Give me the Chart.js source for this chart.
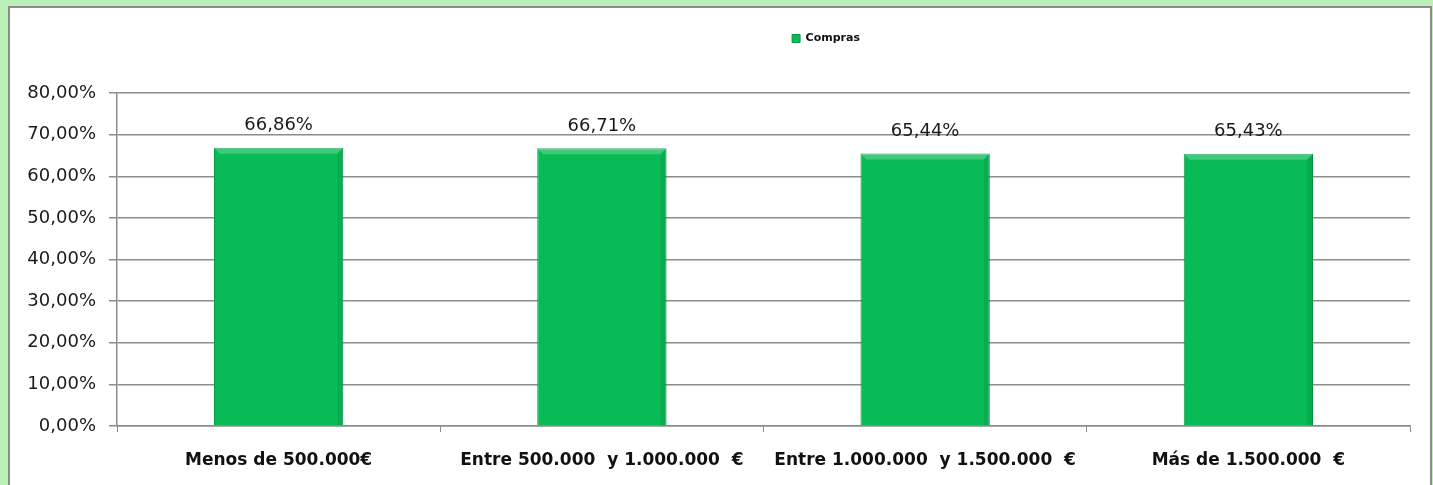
<!DOCTYPE html>
<html lang="es">

<head>
    <meta charset="UTF-8">
    <title> COMPRAS </title>
    <script src="https://cdn.jsdelivr.net/npm/chart.js"></script>

<style>
    body{
        margin: 0;
        background-color: #bcf0b9;
        width: 1433px;
        height: 485px;
        overflow: hidden;
    }
    #panel{
        position: absolute;
        left: 8px;
        top: 6px;
        width: 1420px;
        height: 490px;
        background-color: #ffffff;
        border: 2px solid #8c8c8c;
    }
</style>

</head>

<body>
    <div id="panel">
        <canvas id="myChart" width="1420" height="477"></canvas>
    </div>

    <script>
        var categories = ['Menos de 500.000€', 'Entre 500.000  y 1.000.000  €', 'Entre 1.000.000  y 1.500.000  €', 'Más de 1.500.000  €'];
        var compras = [66.86, 66.71, 65.44, 65.43];
        var seriesName = 'Compras';
        var yTicks = [0, 10, 20, 30, 40, 50, 60, 70, 80];

        function pct(v) {
            return v.toFixed(2).replace('.', ',') + '%';
        }

        // etiquetas encima de cada barra
        var valueLabels = {
            id: 'valueLabels',
            afterDatasetsDraw: function (chart) {
                var ctx = chart.ctx;
                var meta = chart.getDatasetMeta(0);
                ctx.save();
                ctx.font = '18px "DejaVu Sans"';
                ctx.fillStyle = '#1a1a1a';
                ctx.textAlign = 'center';
                ctx.textBaseline = 'bottom';
                meta.data.forEach(function (bar, i) {
                    ctx.fillText(pct(compras[i]), bar.x, bar.y - 13);
                });
                ctx.restore();
            }
        };

        // un poco de relieve en las barras
        var bevel = {
            id: 'bevel',
            afterDatasetsDraw: function (chart) {
                var ctx = chart.ctx;
                chart.getDatasetMeta(0).data.forEach(function (bar) {
                    var l = bar.x - bar.width / 2, r = bar.x + bar.width / 2;
                    var t = bar.y, b = bar.base, d = 6;
                    ctx.save();
                    ctx.fillStyle = 'rgba(255,255,255,0.22)';
                    ctx.beginPath();
                    ctx.moveTo(l, t); ctx.lineTo(r, t); ctx.lineTo(r - d, t + d); ctx.lineTo(l + d, t + d);
                    ctx.closePath(); ctx.fill();
                    ctx.fillStyle = 'rgba(0,0,0,0.07)';
                    ctx.beginPath();
                    ctx.moveTo(r, t); ctx.lineTo(r, b); ctx.lineTo(r - d, b); ctx.lineTo(r - d, t + d);
                    ctx.closePath(); ctx.fill();
                    ctx.restore();
                });
            }
        };

        // mover la leyenda un poco a la derecha
        var legendShift = {
            id: 'legendShift',
            afterLayout: function (chart) {
                if (chart.legend) {
                    chart.legend.left += 116;
                    chart.legend.right += 116;
                }
            }
        };

        var data = {
            labels: categories,
            datasets: [{
                label: seriesName,
                data: compras,
                backgroundColor: '#09bb57',
                borderColor: '#079a47',
                borderWidth: 1,
                categoryPercentage: 1,
                barPercentage: 0.4
            }]
        };

        var options = {
            responsive: false,
            animation: false,
            layout: {
                padding: { left: 0, right: 20, top: 0, bottom: 0 }
            },
            plugins: {
                legend: {
                    display: true,
                    labels: {
                        boxWidth: 8,
                        boxHeight: 8,
                        padding: 25,
                        color: '#111',
                        font: { family: 'DejaVu Sans', size: 11, weight: 'bold' }
                    }
                },
                title: {
                    display: true,
                    text: ' ',
                    weight: 500,
                    padding: { top: 13, bottom: 14 },
                    font: { size: 10 }
                },
                tooltip: { enabled: false }
            },
            scales: {
                x: {
                    grid: {
                        offset: true,
                        drawOnChartArea: false,
                        drawTicks: true,
                        tickLength: 6,
                        color: '#8c8c8c'
                    },
                    border: { color: '#8c8c8c', width: 1.5 },
                    ticks: {
                        color: '#111',
                        padding: 18,
                        font: { family: 'DejaVu Sans', size: 17, weight: 'bold' }
                    },
                    afterFit: function (scale) { scale.height = 59; }
                },
                y: {
                    min: yTicks[0],
                    max: yTicks[yTicks.length - 1],
                    afterBuildTicks: function (scale) {
                        scale.ticks = yTicks.map(function (v) { return { value: v }; });
                    },
                    grid: {
                        color: '#8c8c8c',
                        lineWidth: 1.5,
                        tickLength: 8
                    },
                    border: { color: '#8c8c8c', width: 1.5 },
                    ticks: {
                        color: '#1a1a1a',
                        padding: 13,
                        font: { family: 'DejaVu Sans', size: 18 },
                        callback: function (v) { return pct(v); }
                    },
                    afterFit: function (scale) { scale.width = 107; }
                }
            }
        };

        var ctx = document.getElementById('myChart').getContext('2d');

        var myChart = new Chart(ctx, {
            type: 'bar',
            data: data,
            options: options,
            plugins: [valueLabels, bevel, legendShift]
        });
    </script>
</body>

</html>
